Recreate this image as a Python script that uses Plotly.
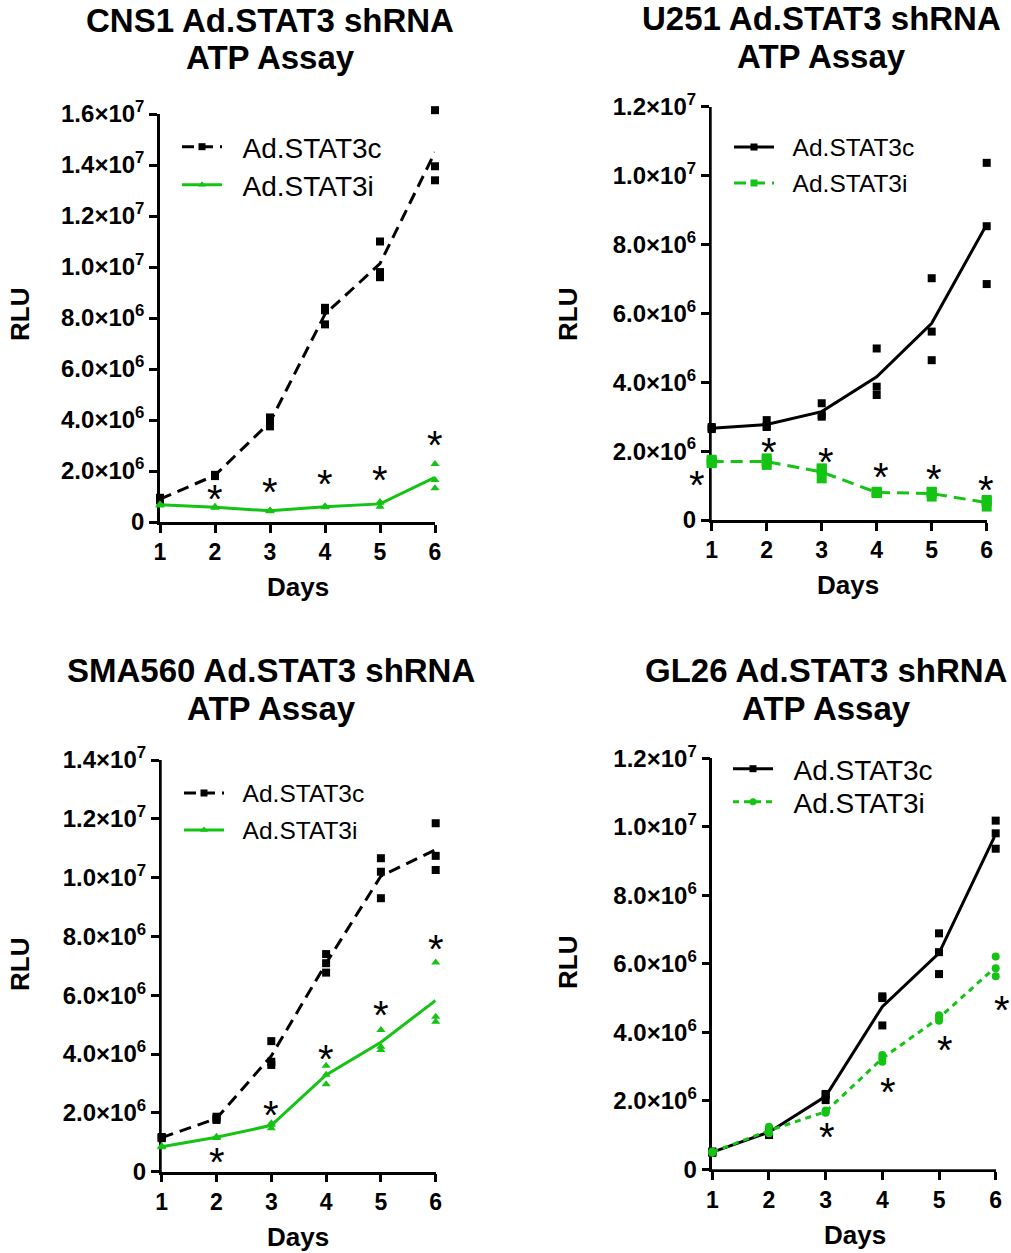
import numpy as np
import plotly.graph_objects as go

W, H = 1011, 1253

days = [1, 2, 3, 4, 5, 6]
day_ticks = ["1", "2", "3", "4", "5", "6"]

# replicate values (x 1e6 RLU)
cns1_c = [[0.95, 0.90, 0.85], [1.85, 1.84, 1.80], [4.10, 3.90, 3.75], [8.40, 8.30, 7.75], [11.0, 9.80, 9.60], [16.15, 13.95, 13.40]]
cns1_i = [[0.70, 0.67, 0.65], [0.60, 0.58, 0.56], [0.45, 0.44, 0.42], [0.62, 0.60, 0.58], [0.78, 0.75, 0.60], [2.27, 1.65, 1.32]]
u251_c = [[2.70, 2.66, 2.64], [2.90, 2.72, 2.70], [3.39, 3.05, 3.00], [4.98, 3.87, 3.63], [7.02, 5.47, 4.64], [10.37, 8.53, 6.85]]
u251_i = [[1.75, 1.70, 1.65], [1.79, 1.70, 1.60], [1.50, 1.47, 1.21], [0.82, 0.80, 0.78], [0.82, 0.80, 0.68], [0.58, 0.55, 0.39]]
sma_c = [[1.18, 1.16, 1.14], [1.87, 1.80, 1.76], [4.44, 3.74, 3.63], [7.40, 7.09, 6.77], [10.66, 10.20, 9.30], [11.85, 10.74, 10.26]]
sma_i = [[0.87, 0.85, 0.83], [1.19, 1.17, 1.15], [1.65, 1.60, 1.48], [3.60, 3.30, 2.97], [4.82, 4.25, 4.14], [7.11, 5.27, 5.10]]
gl26_c = [[0.52, 0.50, 0.48], [1.15, 1.10, 1.00], [2.20, 2.17, 2.02], [5.05, 5.00, 4.20], [6.89, 6.34, 5.70], [10.18, 9.81, 9.36]]
gl26_i = [[0.52, 0.50, 0.48], [1.24, 1.10, 1.05], [1.72, 1.68, 1.65], [3.34, 3.24, 3.14], [4.50, 4.42, 4.34], [6.21, 5.87, 5.64]]

# significance asterisks (day, height x 1e6)
cns1_star_days = [2, 3, 4, 5, 6]
cns1_star_y = [1.18, 1.45, 1.76, 1.92, 3.29]
u251_star_days = [1, 2, 3, 4, 5, 6]
u251_star_y = [1.22, 2.18, 1.89, 1.45, 1.40, 1.07]
sma_star_days = [2, 3, 4, 5, 6]
sma_star_y = [0.57, 2.16, 4.08, 5.56, 7.82]
gl26_star_days = [3, 4, 5, 6]
gl26_star_y = [1.15, 2.46, 3.68, 4.85]

titles = [("CNS1 Ad.STAT3 shRNA", "ATP Assay"), ("U251 Ad.STAT3 shRNA", "ATP Assay"),
          ("SMA560 Ad.STAT3 shRNA", "ATP Assay"), ("GL26 Ad.STAT3 shRNA", "ATP Assay")]
legend_names = ["Ad.STAT3c", "Ad.STAT3i"]

def sci(v):
    if v == 0:
        return "0"
    e = int(np.floor(np.log10(v)))
    m = v / 10 ** e
    return f"{m:.1f}×10<sup>{e}</sup>"

GREEN = "#14c314"
BLACK = "#000000"
FONT = "Liberation Sans, Arial, sans-serif"
EXT = 40  # extra headroom (px) of the invisible data axes so points above the top tick stay visible

# panel geometry in page pixels
panels = [
    dict(px=(160, 435), py=(522, 114), ymax=16, reps=(cns1_c, cns1_i),
         styles=[dict(color=BLACK, dash="12px,7px", symbol="square", size=8),
                 dict(color=GREEN, dash="solid", symbol="triangle-up", size=8)],
         stars=(cns1_star_days, cns1_star_y), star_dx=[0, 0, 0, 0, 0],
         title_x=270, title_y=(20, 58), rlu_xy=(20, 315), days_xy=(298, 587),
         leg_x=177, leg_y=(147, 185), legsize=28),
    dict(px=(711.7, 986.7), py=(520, 106.7), ymax=12, reps=(u251_c, u251_i),
         styles=[dict(color=BLACK, dash="solid", symbol="square", size=8),
                 dict(color=GREEN, dash="12px,7px", symbol="square", size=10)],
         stars=(u251_star_days, u251_star_y), star_dx=[-15, 2, 4, 4, 2, -1],
         title_x=821, title_y=(18, 57), rlu_xy=(568, 315), days_xy=(848, 585),
         leg_x=729, leg_y=(147, 183), legsize=24.5),
    dict(px=(161.7, 435.7), py=(1171.7, 760), ymax=14, reps=(sma_c, sma_i),
         styles=[dict(color=BLACK, dash="12px,7px", symbol="square", size=8),
                 dict(color=GREEN, dash="solid", symbol="triangle-up", size=8)],
         stars=(sma_star_days, sma_star_y), star_dx=[0, 0, 0, 0, 0],
         title_x=271, title_y=(670, 708), rlu_xy=(20, 965), days_xy=(298, 1237),
         leg_x=179, leg_y=(793, 830), legsize=24.5),
    dict(px=(712.3, 995.7), py=(1169.3, 758.3), ymax=12, reps=(gl26_c, gl26_i),
         styles=[dict(color=BLACK, dash="solid", symbol="square", size=8),
                 dict(color=GREEN, dash="6px,5px", symbol="circle", size=8)],
         stars=(gl26_star_days, gl26_star_y), star_dx=[1, 6, 6, 6],
         title_x=826, title_y=(670, 708), rlu_xy=(568, 963), days_xy=(855, 1235),
         leg_x=728, leg_y=(769, 802), legsize=28),
]

def fx(px):
    return px / W

def fy(py):
    return 1 - py / H

fig = go.Figure()
annotations = []
layout = dict(width=W, height=H, margin=dict(l=0, r=0, t=0, b=0),
              plot_bgcolor="white", paper_bgcolor="white", showlegend=True)

axis_common = dict(showgrid=False, zeroline=False, showline=True, linecolor="black", linewidth=2.5,
                   ticks="outside", ticklen=8, tickwidth=2.5, tickcolor="black", automargin=False)

leg_count = 0
for k, p in enumerate(panels):
    n = "" if k == 0 else str(k + 1)
    g = str(k + 5)
    xa, ya = "x" + n, "y" + n
    gx, gy = "x" + g, "y" + g
    x0, x1 = p["px"]
    yb, yt = p["py"]
    yv = [v * 1e6 for v in range(0, p["ymax"] + 1, 2)]
    layout["xaxis" + n] = dict(domain=[fx(x0), fx(x1)], anchor=ya, range=[1, 6],
                                tickvals=days, ticktext=day_ticks,
                                tickfont=dict(family=FONT, size=23, color="black", weight="bold"),
                                **axis_common)
    layout["yaxis" + n] = dict(domain=[fy(yb), fy(yt)], anchor=xa, range=[0, p["ymax"] * 1e6],
                                tickvals=yv, ticktext=[sci(v) for v in yv],
                                tickfont=dict(family=FONT, size=24, color="black", weight="bold"),
                                **axis_common)
    # invisible data axes: same scale, extra headroom on top
    hpx = yb - yt
    layout["xaxis" + g] = dict(domain=[fx(x0), fx(x1)], anchor=gy, range=[1, 6], visible=False)
    layout["yaxis" + g] = dict(domain=[fy(yb), fy(yt - EXT)], anchor=gx,
                                range=[0, p["ymax"] * 1e6 * (hpx + EXT) / hpx], visible=False)

    for reps, st, name, ly in zip(p["reps"], p["styles"], legend_names, p["leg_y"]):
        leg_count += 1
        legname = "legend" if leg_count == 1 else "legend" + str(leg_count)
        layout[legname] = dict(x=fx(p["leg_x"]), y=fy(ly), xanchor="left", yanchor="middle",
                               bgcolor="rgba(0,0,0,0)", itemwidth=40,
                               font=dict(family=FONT, size=p["legsize"], color="black"))
        means = [np.mean(r) * 1e6 for r in reps]
        fig.add_trace(go.Scatter(x=days, y=means, mode="lines", xaxis=gx, yaxis=gy,
                                 line=dict(color=st["color"], width=3, dash=st["dash"]),
                                 showlegend=False, cliponaxis=False, hoverinfo="skip"))
        px_ = [d for d, r in zip(days, reps) for _ in r]
        py_ = [v * 1e6 for r in reps for v in r]
        fig.add_trace(go.Scatter(x=px_, y=py_, mode="markers", xaxis=gx, yaxis=gy,
                                 marker=dict(color=st["color"], symbol=st["symbol"], size=st["size"]),
                                 showlegend=False, cliponaxis=False))
        fig.add_trace(go.Scatter(x=[None], y=[None], mode="lines+markers", xaxis=xa, yaxis=ya,
                                 name="\u00a0\u00a0" + name, legend=legname,
                                 line=dict(color=st["color"], width=3, dash=st["dash"]),
                                 marker=dict(color=st["color"], symbol=st["symbol"], size=7)))

    sd, sy = p["stars"]
    for d, v, dx in zip(sd, sy, p["star_dx"]):
        annotations.append(dict(x=d, y=v * 1e6, xref=xa, yref=ya, text="*", showarrow=False,
                                xanchor="center", yanchor="middle", xshift=dx, yshift=-7,
                                font=dict(family=FONT, size=40, color="black")))

    for line_text, ty in zip(titles[k], p["title_y"]):
        annotations.append(dict(x=fx(p["title_x"]), y=fy(ty), xref="paper", yref="paper", text=line_text,
                                showarrow=False, xanchor="center", yanchor="middle",
                                font=dict(family=FONT, size=33, color="black", weight="bold")))
    rx, ry = p["rlu_xy"]
    annotations.append(dict(x=fx(rx), y=fy(ry), xref="paper", yref="paper", text="RLU",
                            textangle=-90, showarrow=False, xanchor="center", yanchor="middle",
                            font=dict(family=FONT, size=26, color="black", weight="bold")))
    dx_, dy_ = p["days_xy"]
    annotations.append(dict(x=fx(dx_), y=fy(dy_), xref="paper", yref="paper", text="Days",
                            showarrow=False, xanchor="center", yanchor="middle",
                            font=dict(family=FONT, size=26, color="black", weight="bold")))

layout["annotations"] = annotations
fig.update_layout(**layout)
# remove the browser's default 8px body margin so the figure fills the window exactly
fig.write_html("out.html", config={"displayModeBar": False},
               post_script="document.body.style.margin='0px';")
